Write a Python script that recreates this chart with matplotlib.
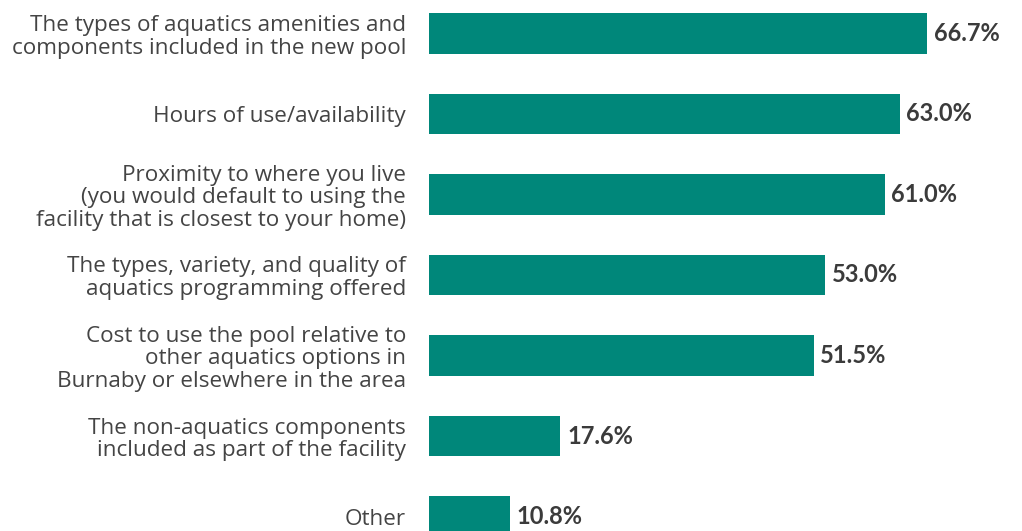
import matplotlib.pyplot as plt

categories = [
    "The types of aquatics amenities and\ncomponents included in the new pool",
    "Hours of use/availability",
    "Proximity to where you live\n(you would default to using the\nfacility that is closest to your home)",
    "The types, variety, and quality of\naquatics programming offered",
    "Cost to use the pool relative to\nother aquatics options in\nBurnaby or elsewhere in the area",
    "The non-aquatics components\nincluded as part of the facility",
    "Other",
]
values = [66.7, 63.0, 61.0, 53.0, 51.5, 17.6, 10.8]

BAR_COLOR = "#00877a"

fig = plt.figure(figsize=(10.22, 5.31), dpi=100)
ax = fig.add_axes([429 / 1022, 0, 1 - 429 / 1022, 1])

pos = list(range(len(values)))
ax.barh(pos, values, height=0.5, color=BAR_COLOR)
ax.set_xlim(0, 79.4)
ax.set_ylim(6.18, -0.416)

for y, v in zip(pos, values):
    ax.text(v + 0.9, y, f"{v:.1f}%", va="center", ha="left",
            fontsize=17, fontweight="bold", color="#3b3b3b", family="Lato")

ax.set_yticks(pos)
ax.set_yticklabels(categories, fontsize=16.2, color="#444444", family="Open Sans",
                   linespacing=1.12)
ax.tick_params(axis="y", length=0, pad=16.5)
ax.set_xticks([])
for s in ax.spines.values():
    s.set_visible(False)

fig.savefig("out.png", dpi=100)
